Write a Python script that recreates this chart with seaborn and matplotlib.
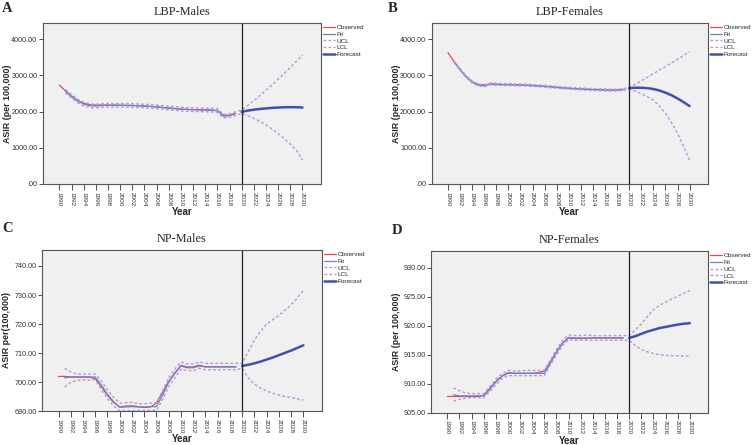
import numpy as np
import pandas as pd
import matplotlib
matplotlib.use("Agg")
import matplotlib.pyplot as plt
from matplotlib.ticker import FuncFormatter
import seaborn as sns

sns.set_style("ticks")
plt.rcParams['font.family'] = ['Liberation Sans', 'DejaVu Sans']

# --- DATA ---
years_obs = list(range(1990, 2020))
years_fit = list(range(1991, 2020))
years_fc = list(range(2020, 2031))
years_ci = list(range(1991, 2031))

# LBP-Males
lbp_m_obs = [2730, 2570, 2410, 2300, 2225, 2185, 2180, 2180, 2178, 2175, 2172, 2170, 2168, 2160, 2150,
             2140, 2128, 2110, 2095, 2080, 2065, 2058, 2052, 2048, 2042, 2036, 2020, 1900, 1895, 1950]
lbp_m_fit = [2560, 2420, 2290, 2205, 2160, 2150, 2165, 2172, 2172, 2170, 2168, 2165, 2158, 2150, 2140,
             2128, 2112, 2097, 2082, 2068, 2058, 2052, 2047, 2042, 2036, 2028, 1870, 1885, 1945]
lbp_m_ucl = [2610, 2470, 2340, 2255, 2210, 2200, 2215, 2222, 2222, 2220, 2218, 2215, 2208, 2200, 2190,
             2178, 2162, 2147, 2132, 2118, 2108, 2102, 2097, 2092, 2086, 2078, 1920, 1935, 1995,
             2040, 2165, 2300, 2440, 2585, 2735, 2890, 3050, 3215, 3385, 3560]
lbp_m_lcl = [2510, 2370, 2240, 2155, 2110, 2100, 2115, 2122, 2122, 2120, 2118, 2115, 2108, 2100, 2090,
             2078, 2062, 2047, 2032, 2018, 2008, 2002, 1997, 1992, 1986, 1978, 1820, 1835, 1895,
             1940, 1885, 1815, 1730, 1630, 1515, 1390, 1250, 1100, 935, 660]
lbp_m_fc = [1990, 2025, 2050, 2070, 2085, 2100, 2110, 2118, 2120, 2118, 2110]

# LBP-Females
lbp_f_obs = [3620, 3380, 3150, 2960, 2820, 2750, 2735, 2750, 2745, 2740, 2740, 2735, 2730, 2725, 2715,
             2705, 2695, 2680, 2665, 2650, 2640, 2630, 2620, 2612, 2605, 2598, 2592, 2590, 2592, 2610]
lbp_f_fit = [3370, 3160, 2960, 2810, 2730, 2710, 2760, 2755, 2745, 2742, 2737, 2732, 2727, 2717, 2707,
             2697, 2682, 2667, 2652, 2642, 2632, 2622, 2614, 2607, 2600, 2594, 2591, 2592, 2605]
lbp_f_ucl = [3395, 3185, 2985, 2835, 2755, 2735, 2785, 2780, 2770, 2767, 2762, 2757, 2752, 2742, 2732,
             2722, 2707, 2692, 2677, 2667, 2657, 2647, 2639, 2632, 2625, 2619, 2616, 2617, 2630,
             2665, 2750, 2845, 2945, 3045, 3140, 3240, 3340, 3440, 3545, 3650]
lbp_f_lcl = [3345, 3135, 2935, 2785, 2705, 2685, 2735, 2730, 2720, 2717, 2712, 2707, 2702, 2692, 2682,
             2672, 2657, 2642, 2627, 2617, 2607, 2597, 2589, 2582, 2575, 2569, 2566, 2567, 2580,
             2620, 2560, 2490, 2410, 2310, 2150, 1950, 1700, 1400, 1050, 640]
lbp_f_fc = [2645, 2655, 2655, 2645, 2620, 2580, 2520, 2450, 2360, 2260, 2150]

# NP-Males
np_m_obs = [702.0, 702.0, 701.8, 701.8, 701.8, 701.8, 701.2, 698.5, 695.5, 693.0, 691.5, 691.8, 691.9,
            691.6, 691.3, 691.5, 692.8, 696.5, 700.3, 703.2, 705.6, 705.0, 705.0, 705.6, 705.3, 705.3,
            705.3, 705.3, 705.3, 705.3]
np_m_fit = [701.5, 701.8, 701.8, 701.8, 701.8, 701.8, 699.0, 695.8, 693.3, 691.4, 691.5, 691.6, 691.5,
            691.5, 691.6, 691.6, 695.5, 700.0, 703.0, 705.8, 705.3, 705.3, 705.9, 705.3, 705.3, 705.3,
            705.3, 705.3, 705.3]
np_m_ucl = [704.8, 703.5, 702.8, 702.8, 702.8, 702.8, 700.5, 697.3, 694.8, 692.8, 693.0, 693.1, 692.6,
            692.6, 692.8, 693.0, 697.0, 701.5, 704.5, 707.0, 706.3, 706.3, 707.0, 706.5, 706.5, 706.5,
            706.5, 706.5, 706.5,
            706.5, 710.5, 714.5, 717.5, 720.0, 721.5, 723.0, 724.8, 726.6, 729.0, 731.6]
np_m_lcl = [698.3, 700.0, 700.6, 700.8, 700.8, 700.8, 697.5, 694.3, 691.8, 690.2, 690.2, 690.2, 690.3,
            690.3, 690.3, 690.3, 694.0, 698.5, 701.5, 704.5, 704.0, 704.0, 704.8, 704.3, 704.3, 704.3,
            704.3, 704.3, 704.3,
            704.8, 701.5, 699.3, 698.0, 697.0, 696.2, 695.6, 695.1, 694.7, 694.3, 693.9]
np_m_fc = [705.6, 706.0, 706.5, 707.1, 707.8, 708.5, 709.3, 710.1, 710.9, 711.8, 712.7]

# NP-Females
np_f_obs = [907.8, 907.8, 907.8, 907.8, 907.8, 907.8, 908.0, 909.2, 910.4, 911.3, 911.9, 911.8, 911.8,
            911.8, 911.8, 911.9, 912.2, 913.8, 915.5, 917.0, 917.9, 917.8, 917.8, 917.8, 917.9, 917.9,
            917.9, 917.9, 917.9, 917.9]
np_f_fit = [908.1, 907.9, 907.9, 907.9, 907.9, 907.9, 909.0, 910.3, 911.3, 911.8, 911.8, 911.8, 911.8,
            911.8, 911.8, 911.8, 913.6, 915.4, 917.0, 918.0, 917.9, 917.9, 917.9, 917.9, 917.9, 917.9,
            917.9, 917.9, 917.9]
np_f_ucl = [909.3, 908.8, 908.4, 908.3, 908.3, 908.3, 909.5, 910.8, 911.7, 912.3, 912.2, 912.2, 912.3,
            912.3, 912.3, 912.3, 914.1, 915.9, 917.5, 918.4, 918.3, 918.3, 918.4, 918.3, 918.3, 918.3,
            918.3, 918.3, 918.3,
            918.3, 919.3, 920.3, 921.6, 922.8, 923.5, 924.1, 924.6, 925.1, 925.6, 926.1]
np_f_lcl = [907.0, 907.3, 907.5, 907.6, 907.6, 907.6, 908.6, 909.8, 910.9, 911.4, 911.4, 911.4, 911.4,
            911.4, 911.4, 911.4, 913.2, 915.0, 916.6, 917.6, 917.5, 917.5, 917.5, 917.5, 917.5, 917.5,
            917.5, 917.5, 917.5,
            917.5, 916.6, 915.9, 915.5, 915.2, 915.0, 914.9, 914.85, 914.8, 914.8, 914.75]
np_f_fc = [917.9, 918.2, 918.6, 919.0, 919.3, 919.6, 919.8, 920.0, 920.2, 920.35, 920.45]

W, H = 753, 445

# rect in pixels: left, top, right, bottom ; letter position in pixels
panels = [
    dict(letter='A', title='LBP-Males', ylabel='ASIR (per 100,000)', obs=lbp_m_obs, fit=lbp_m_fit,
         ucl=lbp_m_ucl, lcl=lbp_m_lcl, fc=lbp_m_fc, ylim=(0, 4450), yticks=[0, 1000, 2000, 3000, 4000],
         px=(43, 22.7, 320.7, 184), let=(2, 2)),
    dict(letter='B', title='LBP-Females', ylabel='ASIR (per 100,000)', obs=lbp_f_obs, fit=lbp_f_fit,
         ucl=lbp_f_ucl, lcl=lbp_f_lcl, fc=lbp_f_fc, ylim=(0, 4450), yticks=[0, 1000, 2000, 3000, 4000],
         px=(431.7, 22.7, 707.7, 184), let=(388, 2)),
    dict(letter='C', title='NP-Males', ylabel='ASIR per(100,000)', obs=np_m_obs, fit=np_m_fit,
         ucl=np_m_ucl, lcl=np_m_lcl, fc=np_m_fc, ylim=(690, 745.6), yticks=[690, 700, 710, 720, 730, 740],
         px=(42, 249.7, 321.7, 411.3), let=(2, 222)),
    dict(letter='D', title='NP-Females', ylabel='ASIR (per 100,000)', obs=np_f_obs, fit=np_f_fit,
         ucl=np_f_ucl, lcl=np_f_lcl, fc=np_f_fc, ylim=(905, 932.9), yticks=[905, 910, 915, 920, 925, 930],
         px=(431, 251, 708, 412.7), let=(392, 224)),
]

OBS_C = '#e8474a'
FIT_C = '#6a80cf'
CI_C = '#b596dc'
FC_C = '#3a53b0'
BG = '#f0f0f0'
SERIF = ['Liberation Serif', 'DejaVu Serif']


def fmt_y(v, pos):
    return '.00' if v == 0 else f"{v:.2f}"


fig = plt.figure(figsize=(W / 100, H / 100), dpi=100)

for p in panels:
    l, t, r, b = p['px']
    w_px, h_px = r - l, b - t
    ax = fig.add_axes([l / W, 1 - b / H, w_px / W, h_px / H])
    ax.set_facecolor(BG)
    sns.lineplot(x=years_obs, y=p['obs'], ax=ax, color=OBS_C, lw=0.9, label='Observed')
    sns.lineplot(x=years_fit, y=p['fit'], ax=ax, color=FIT_C, lw=0.9, label='Fit')
    sns.lineplot(x=years_ci, y=p['ucl'], ax=ax, color=CI_C, lw=1.0, dashes=(2, 1.6), label='UCL')
    sns.lineplot(x=years_ci, y=p['lcl'], ax=ax, color=CI_C, lw=1.0, dashes=(2, 1.6), label='LCL')
    sns.lineplot(x=years_fc, y=p['fc'], ax=ax, color=FC_C, lw=1.8, label='Forecast')
    ax.axvline(2020, color='#222222', lw=0.9)

    ax.set_xlim(1987.3, 2033)
    ax.set_ylim(*p['ylim'])
    ax.set_xticks(list(range(1990, 2031, 2)))
    ax.set_xticklabels([str(y) for y in range(1990, 2031, 2)], rotation=-90, fontsize=4.6, color='#333333')
    ax.set_yticks(p['yticks'])
    ax.yaxis.set_major_formatter(FuncFormatter(fmt_y))
    ax.tick_params(axis='y', labelsize=5.2, length=3, width=0.6, pad=1, colors='#333333')
    ax.tick_params(axis='x', length=4, width=0.6, pad=1.5, colors='#333333')
    for sp in ax.spines.values():
        sp.set_visible(True)
        sp.set_color('#555555')
        sp.set_linewidth(0.8)

    ax.set_xlabel('Year', fontsize=7, fontweight='bold')
    ax.xaxis.set_label_coords(0.5, -23 / h_px)
    ax.set_ylabel(p['ylabel'], fontsize=6.4, fontweight='bold')
    ax.yaxis.set_label_coords(-35 / w_px, 0.5)
    ax.yaxis.label.set_va('center')
    ax.set_title(p['title'], fontsize=8.8, family=SERIF, pad=5.5)

    ax.legend(loc='upper left', bbox_to_anchor=(1.0, 1.0), frameon=False, fontsize=4.6,
              handlelength=1.9, handletextpad=0.3, labelspacing=0.2, borderaxespad=0.1, borderpad=0.2)

    fig.text(p['let'][0] / W, 1 - p['let'][1] / H, p['letter'], fontsize=10.5, fontweight='bold',
             family=SERIF, va='top', ha='left')

fig.savefig('out.png', dpi=100, facecolor='white')
